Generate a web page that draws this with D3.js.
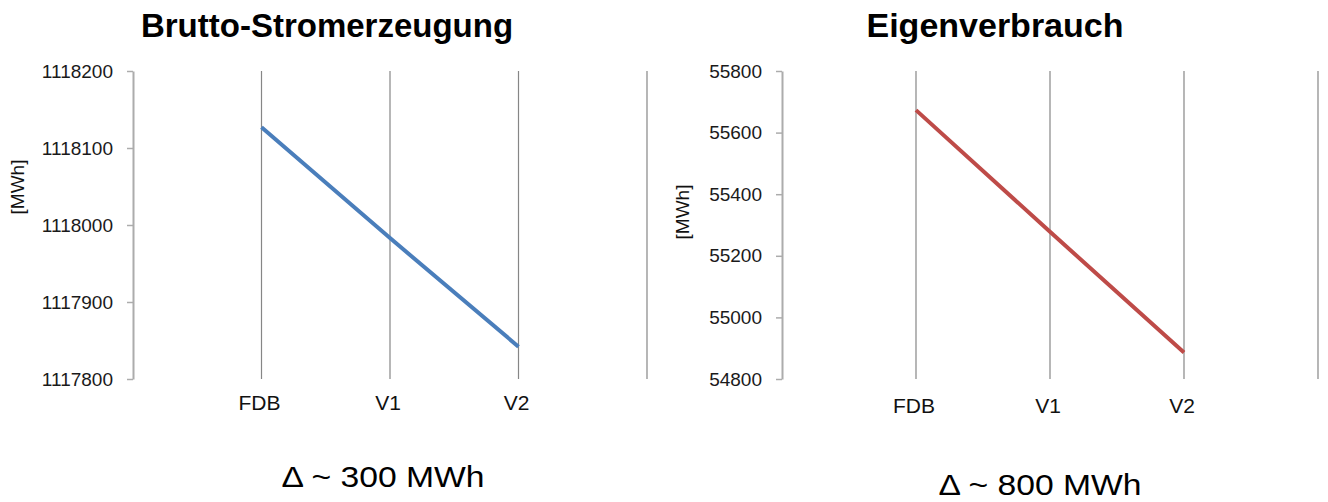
<!DOCTYPE html>
<html>
<head>
<meta charset="utf-8">
<script src="https://cdn.jsdelivr.net/npm/d3@7"></script>
<style>
  html, body { margin: 0; padding: 0; background: #ffffff; }
  svg { display: block; font-family: "Liberation Sans", Arial, sans-serif; }
</style>
</head>
<body>
<svg id="chart" width="1328" height="502"></svg>
<script>
// Scenario categories shared by both panels
const categories = ["FDB", "V1", "V2"];

// Gross electricity generation per scenario [MWh]
const bruttoValues = [1118127, 1117983, 1117842];
const bruttoTicks = [1117800, 1117900, 1118000, 1118100, 1118200];

// Own consumption per scenario [MWh]
const eigenValues = [55673, 55278, 54886];
const eigenTicks = [54800, 55000, 55200, 55400, 55600, 55800];

const svg = d3.select("#chart");

const panels = [
  {
    title: "Brutto-Stromerzeugung", values: bruttoValues, ticks: bruttoTicks,
    domain: [1117800, 1118200], color: "#4a7ebb",
    x0: 133, x1: 647, titleX: 327, titleSize: 33,
    unitX: 17, unitY: 187, labelY: 410,
    note: "\u0394 ~ 300 MWh", noteX: 383, noteY: 487
  },
  {
    title: "Eigenverbrauch", values: eigenValues, ticks: eigenTicks,
    domain: [54800, 55800], color: "#be4b48",
    x0: 782, x1: 1318, titleX: 995, titleSize: 34,
    unitX: 682, unitY: 212, labelY: 413,
    note: "\u0394 ~ 800 MWh", noteX: 1040, noteY: 495
  }
];

const yTop = 71, yBottom = 379;

panels.forEach(p => {
  const g = svg.append("g");

  const x = d3.scalePoint().domain(categories).range([p.x0, p.x1]).padding(1);
  const y = d3.scaleLinear().domain(p.domain).range([yBottom, yTop]);

  // vertical gridlines at each category and at the right edge of the plot
  const gridXs = categories.map(c => x(c)).concat([p.x1]);
  g.selectAll("line.grid")
    .data(gridXs)
    .join("line")
    .attr("class", "grid")
    .attr("x1", d => d).attr("x2", d => d)
    .attr("y1", yTop).attr("y2", yBottom)
    .attr("stroke", "#868686")
    .attr("stroke-width", 1.2);

  // value axis
  const yAxis = d3.axisLeft(y)
    .tickValues(p.ticks)
    .tickFormat(d3.format("d"))
    .tickSizeInner(6)
    .tickSizeOuter(0)
    .tickPadding(14);
  const ya = g.append("g")
    .attr("transform", `translate(${p.x0},0)`)
    .call(yAxis);
  ya.select(".domain").attr("stroke", "#acacac").attr("stroke-width", 2);
  ya.selectAll(".tick line").attr("stroke", "#acacac").attr("stroke-width", 1.5);
  ya.selectAll(".tick text")
    .attr("fill", "#1a1a1a")
    .style("font-size", "19px")
    .style("font-family", "'Liberation Sans', Arial, sans-serif");

  // category labels
  g.selectAll("text.cat")
    .data(categories)
    .join("text")
    .attr("class", "cat")
    .attr("x", d => x(d) - 2)
    .attr("y", p.labelY)
    .attr("text-anchor", "middle")
    .attr("fill", "#111")
    .style("font-size", "21px")
    .text(d => d);

  // series line
  const line = d3.line()
    .x((d, i) => x(categories[i]))
    .y(d => y(d));
  g.append("path")
    .datum(p.values)
    .attr("d", line)
    .attr("fill", "none")
    .attr("stroke", p.color)
    .attr("stroke-width", 4)
    .attr("stroke-linecap", "butt");

  // unit label
  g.append("text")
    .attr("transform", `translate(${p.unitX + 7},${p.unitY}) rotate(-90)`)
    .attr("text-anchor", "middle")
    .attr("fill", "#111")
    .style("font-size", "19px")
    .text("[MWh]");

  // panel title
  g.append("text")
    .attr("x", p.titleX)
    .attr("y", 37)
    .attr("text-anchor", "middle")
    .attr("fill", "#000")
    .style("font-size", p.titleSize + "px")
    .style("font-weight", "bold")
    .text(p.title);

  // difference note beneath the panel
  g.append("text")
    .attr("x", p.noteX)
    .attr("y", p.noteY)
    .attr("text-anchor", "middle")
    .attr("fill", "#000")
    .style("font-size", "30px")
    .attr("textLength", 203)
    .attr("lengthAdjust", "spacingAndGlyphs")
    .text(p.note);
});
</script>
</body>
</html>
